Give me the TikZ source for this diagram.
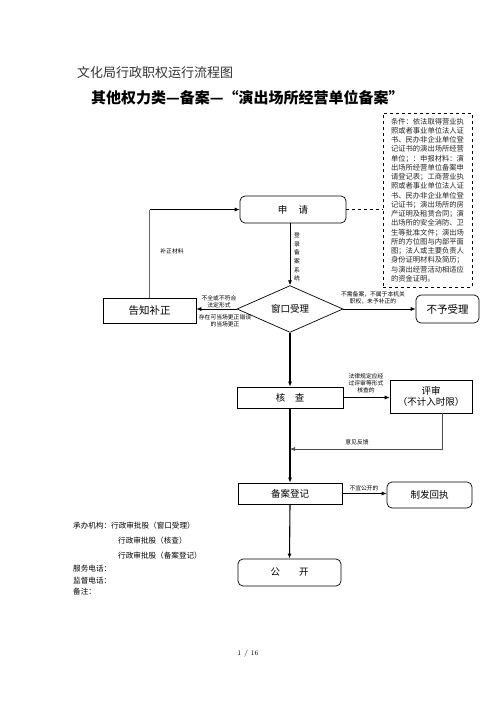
\documentclass[tikz,border=0pt]{standalone}
\usepackage{fontspec}
\newfontfamily\cjk{Noto Sans CJK SC}
\usetikzlibrary{arrows.meta,shapes.geometric}
\begin{document}
\begin{tikzpicture}[x=1pt,y=-1pt,
  font=\cjk,
  sharpbox/.style={draw,line width=0.7pt,inner sep=0pt,font=\cjk\fontsize{9.5}{11}\selectfont},
  roundbox/.style={sharpbox,rounded corners=5pt},
  lbl/.style={inner sep=0pt,align=center,font=\cjk\fontsize{5.8}{7}\selectfont},
  arr/.style={line width=0.7pt,-{Latex[length=5pt,width=4pt]}},
  mainarr/.style={line width=1.1pt,-{Latex[length=5pt,width=4pt]}},
  plain/.style={line width=0.7pt}
]
\useasboundingbox (0,0) rectangle (496,702);
\fill[white] (0,0) rectangle (496,702);

% titles
\node[anchor=west,inner sep=0pt,font=\cjk\fontsize{13}{15}\selectfont,text=black!80] (t1) at (77,73) {文化局行政职权运行流程图};
\node[anchor=west,inner sep=0pt,font=\cjk\bfseries\fontsize{15}{17}\selectfont] (t2) at (91,98) {其他权力类—备案—“演出场所经营单位备案”};

% conditions box
\node[draw,dashed,line width=0.7pt,minimum width=89pt,minimum height=174pt,inner sep=0pt,align=left,
      font=\cjk\fontsize{7.3}{9.25}\selectfont,text=black!85] (tj) at (427.5,200)
{条件：依法取得营业执\\照或者事业单位法人证\\书、民办非企业单位登\\记证书的演出场所经营\\单位；：申报材料：演\\出场所经营单位备案申\\请登记表；工商营业执\\照或者事业单位法人证\\书、民办非企业单位登\\记证书；演出场所的房\\产证明及租赁合同；演\\出场所的安全消防、卫\\生等批准文件；演出场\\所的方位图与内部平面\\图；法人或主要负责人\\身份证明材料及简历；\\与演出经营活动相适应\\的资金证明。};

% main nodes
\node[roundbox,minimum width=106pt,minimum height=27pt] (shen) at (293,209.5) {申\hspace{1.2em}请};
\node[draw,diamond,line width=0.7pt,minimum width=106pt,minimum height=44pt,inner sep=0pt,
      font=\cjk\fontsize{9.5}{11}\selectfont] (dia) at (290,309) {窗口受理};
\node[sharpbox,minimum width=93pt,minimum height=25pt,font=\cjk\fontsize{10.5}{12}\selectfont] (gz) at (149.5,310.5) {告知补正};
\node[roundbox,minimum width=63pt,minimum height=28pt,font=\cjk\fontsize{10.5}{12}\selectfont] (byl) at (447.5,309) {不予受理};
\node[sharpbox,minimum width=106pt,minimum height=21pt] (hc) at (290,397.5) {核\hspace{1em}查};
\node[sharpbox,minimum width=82pt,minimum height=33pt,align=center,font=\cjk\fontsize{9.5}{11.5}\selectfont] (ps) at (431,396.5) {评审\\（不计入时限）};
\node[sharpbox,minimum width=104pt,minimum height=21pt] (ba) at (290,493.5) {备案登记};
\node[roundbox,minimum width=85pt,minimum height=26pt] (zf) at (429.5,495) {制发回执};
\node[roundbox,minimum width=103pt,minimum height=27pt] (gk) at (289.5,572.5) {公\hspace{2em}开};

\coordinate (fbend) at (290,449);

% connectors
\draw[plain,dashed] (shen.east) -- (shen.east -| tj.west);
\draw[arr] (dia.north |- shen.south) -- (dia.north);
\draw[arr] (dia.west) -- (dia.west -| gz.east);
\draw[line width=1.1pt,draw=black!60] (gz.north) -- (gz.north |- shen.west);
\draw[arr] (gz.north |- shen.west) -- (shen.west);
\draw[arr] (dia.east) -- (dia.east -| byl.west);
\draw[mainarr] (dia.south) -- (hc.north);
\draw[arr] (hc.east) -- (hc.east -| ps.west);
\draw[mainarr] (hc.south) -- (ba.north);
\draw[arr,draw=black!70] ([xshift=11pt]ps.south) |- (fbend);
\draw[arr] (ba.east) -- (ba.east -| zf.west);
\draw[mainarr] (ba.south) -- (gk.north);

% labels
\node[lbl] (l1) at (172,251) {补正材料};
\node[lbl,font=\cjk\fontsize{5.8}{8.6}\selectfont] (l2) at (297,257) {登\\录\\备\\案\\系\\统};
\node[lbl] (l3) at (219,301.5) {不全或不符合\\法定形式};
\node[lbl] (l4) at (225,320.5) {存在可当场更正错误\\的当场更正};
\node[lbl] (l5) at (373,298) {不需备案，不属于本机关\\职权，未予补正的};
\node[lbl] (l6) at (366,383) {法律规定应经\\过评审等形式\\核查的};
\node[lbl] (l7) at (357,442) {意见反馈};
\node[lbl] (l8) at (364,488.5) {不宜公开的};

% bottom-left info
\begin{scope}[every node/.style={anchor=west,inner sep=0pt,font=\cjk\fontsize{7.6}{9}\selectfont}]
\node (i1) at (73,525.5) {承办机构：行政审批股（窗口受理）};
\node (i2) at (118,540.5) {行政审批股（核查）};
\node (i3) at (118,555.5) {行政审批股（备案登记）};
\node (i4) at (73,568.5) {服务电话：};
\node (i5) at (73,580.5) {监督电话：};
\node (i6) at (73,592) {备注：};
\end{scope}

\node[inner sep=0pt,font=\fontsize{7}{8}\selectfont] (pg) at (248,654) {1\ /\ 16};
\end{tikzpicture}
\end{document}
